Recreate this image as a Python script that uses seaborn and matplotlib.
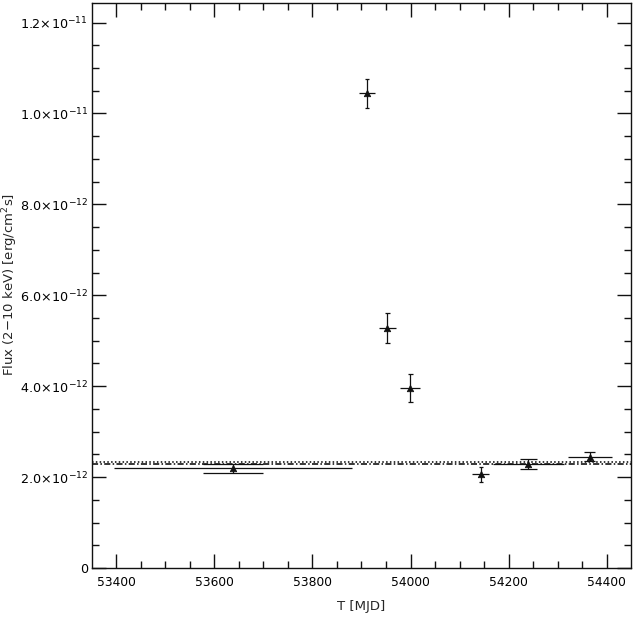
import matplotlib
matplotlib.use("Agg")
import matplotlib.pyplot as plt
import matplotlib.ticker as mticker
import seaborn as sns
import pandas as pd
import numpy as np

# ---- data ----
t_mjd = [53638, 53911, 53953, 53999, 54143, 54240, 54365]
t_err = [242, 16, 18, 20, 17, 72, 45]
flux = [2.19e-12, 10.44e-12, 5.28e-12, 3.96e-12, 2.06e-12, 2.29e-12, 2.45e-12]
flux_err = [0.09e-12, 0.32e-12, 0.33e-12, 0.31e-12, 0.16e-12, 0.11e-12, 0.095e-12]
ref_levels = [2.34e-12, 2.295e-12]
y_ticks = [0, 2e-12, 4e-12, 6e-12, 8e-12, 1.0e-11, 1.2e-11]
x_ticks = [53400, 53600, 53800, 54000, 54200, 54400]

df = pd.DataFrame({"t": t_mjd, "terr": t_err, "f": flux, "ferr": flux_err})

sns.set_theme(style="ticks")
plt.rcParams["font.family"] = ["DejaVu Sans"]

fig = plt.figure(figsize=(6.33, 6.20), dpi=100)
ax = fig.add_axes([0.1453, 0.0839, 0.8515, 0.9113])

lw = 0.9
col = "#111111"

# reference levels
ax.axhline(ref_levels[0], color="black", lw=1.1, ls=(0, (1, 1.5)))
ax.axhline(ref_levels[1], color="black", lw=1.1, ls=(0, (4, 1.5, 1, 1.5)))

# error bars (caps drawn as 1/4 of the horizontal extent)
ax.errorbar(df["t"], df["f"], xerr=df["terr"], yerr=df["ferr"], fmt="none",
            ecolor=col, elinewidth=lw, capsize=0)
ax.hlines(df["f"] + df["ferr"], df["t"] - df["terr"] / 4, df["t"] + df["terr"] / 4,
          color=col, lw=lw)
ax.hlines(df["f"] - df["ferr"], df["t"] - df["terr"] / 4, df["t"] + df["terr"] / 4,
          color=col, lw=lw)

sns.scatterplot(data=df, x="t", y="f", marker="^", s=22, color=col,
                edgecolor=col, linewidth=0.5, ax=ax, zorder=5)

ax.set_xlim(53351, 54449)
ax.set_ylim(0, 1.243e-11)

ax.set_xticks(x_ticks)
ax.xaxis.set_minor_locator(mticker.MultipleLocator(50))
ax.set_yticks(y_ticks)
ax.yaxis.set_minor_locator(mticker.MultipleLocator(0.5e-12))


def yfmt(v, pos):
    if v == 0:
        return "0"
    e = int(np.floor(np.log10(abs(v)) + 1e-9))
    m = v / 10 ** e
    return r"$%.1f\!\times\!10^{%d}$" % (m, e)


ax.yaxis.set_major_formatter(mticker.FuncFormatter(yfmt))
ax.xaxis.set_major_formatter(mticker.FuncFormatter(lambda v, p: "%d" % v))

ax.tick_params(which="both", direction="in", top=True, right=True,
               colors=col, labelcolor="black", width=1.0)
ax.tick_params(which="major", length=10)
ax.tick_params(which="minor", length=5)
ax.tick_params(axis="x", which="major", labelsize=8.8, pad=5.5)
ax.tick_params(axis="y", which="major", labelsize=9.2, pad=3)
for s in ax.spines.values():
    s.set_color(col)
    s.set_linewidth(1.0)

ax.set_xlabel("T [MJD]", fontsize=9.5, va="center", ha="center")
ax.set_ylabel(r"Flux (2$-$10 keV) [erg/cm$^2$s]", fontsize=9.5,
              va="center", ha="center")
ax.xaxis.set_label_coords(0.499, -0.069)
ax.yaxis.set_label_coords(-0.152, 0.501)

fig.savefig("out.png", dpi=100)
